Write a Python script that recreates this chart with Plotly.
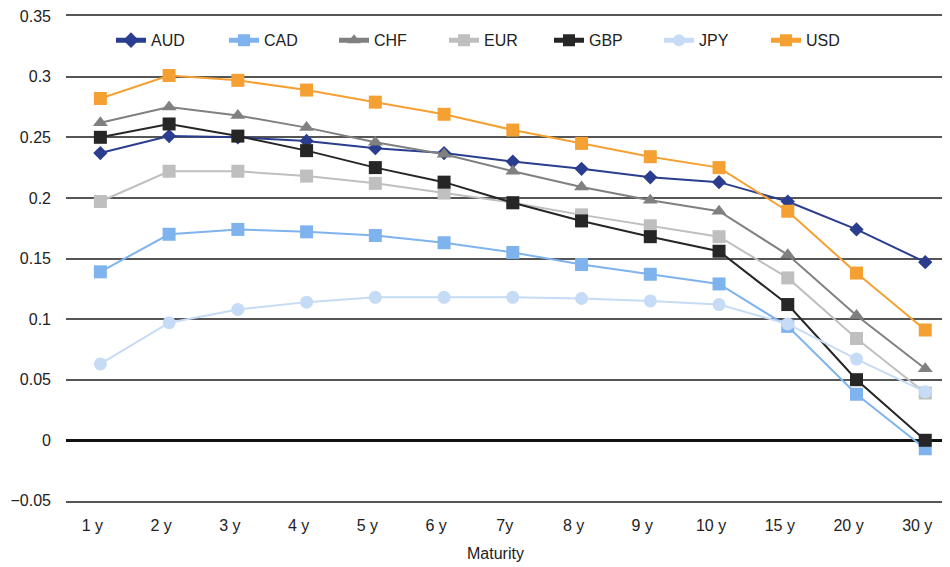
import plotly.graph_objects as go

maturities = ["1 y", "2 y", "3 y", "4 y", "5 y", "6 y", "7y", "8 y", "9 y", "10 y", "15 y", "20 y", "30 y"]

aud = [0.237, 0.251, 0.250, 0.247, 0.241, 0.237, 0.230, 0.224, 0.217, 0.213, 0.197, 0.174, 0.147]
cad = [0.139, 0.170, 0.174, 0.172, 0.169, 0.163, 0.155, 0.145, 0.137, 0.129, 0.094, 0.038, -0.007]
chf = [0.262, 0.275, 0.268, 0.258, 0.246, 0.236, 0.222, 0.209, 0.198, 0.189, 0.153, 0.103, 0.059]
eur = [0.197, 0.222, 0.222, 0.218, 0.212, 0.204, 0.196, 0.186, 0.177, 0.168, 0.134, 0.084, 0.039]
gbp = [0.250, 0.261, 0.251, 0.239, 0.225, 0.213, 0.196, 0.181, 0.168, 0.156, 0.112, 0.050, 0.000]
jpy = [0.063, 0.097, 0.108, 0.114, 0.118, 0.118, 0.118, 0.117, 0.115, 0.112, 0.096, 0.067, 0.040]
usd = [0.282, 0.301, 0.297, 0.289, 0.279, 0.269, 0.256, 0.245, 0.234, 0.225, 0.189, 0.138, 0.091]

y_ticks = [0.35, 0.3, 0.25, 0.2, 0.15, 0.1, 0.05, 0, -0.05]
y_tick_labels = ["0.35", "0.3", "0.25", "0.2", "0.15", "0.1", "0.05", "0", "\u22120.05"]

series = [
    ("AUD", aud, "#2b3d8f", "diamond", 11),
    ("CAD", cad, "#7fb3ee", "square", 13),
    ("CHF", chf, "#808080", "triangle-up", 13),
    ("EUR", eur, "#bfbfbf", "square", 13),
    ("GBP", gbp, "#262626", "square", 13),
    ("JPY", jpy, "#c6dbf5", "circle", 13),
    ("USD", usd, "#f5a033", "square", 13),
]

# page is rendered with an 8px body margin; figure is sized to compensate
PAGE_OFF = 8
W, H = 950 - PAGE_OFF, 567 - PAGE_OFF
L, T, B, R = 66 - PAGE_OFF, 14 - PAGE_OFF, 66, 0
PW = W - L - R

# left pixel (page coords) of each legend entry (one legend per series)
legend_px = [111, 224, 334, 444, 549, 659, 766]

fig = go.Figure()
layout_legends = {}
for i, (name, vals, color, symbol, size) in enumerate(series):
    key = "legend" if i == 0 else f"legend{i + 1}"
    fig.add_trace(go.Scatter(
        x=maturities, y=vals, name=name, mode="lines+markers",
        line=dict(color=color, width=2),
        marker=dict(symbol=symbol, size=size, color=color),
        legend=key,
    ))
    layout_legends[key] = dict(
        orientation="h", x=(legend_px[i] - 66) / PW, xanchor="left",
        y=0.95, yanchor="middle",
        font=dict(size=16, color="#222"), bgcolor="rgba(255,255,255,0)",
        borderwidth=0, itemsizing="constant",
    )

fig.update_layout(
    width=W, height=H,
    margin=dict(l=L, r=R, t=T, b=B),
    paper_bgcolor="white", plot_bgcolor="white",
    font=dict(family="Liberation Sans, Arial, sans-serif", size=16, color="#222"),
    showlegend=True,
    xaxis=dict(
        type="category", range=[-0.5, 12.36],
        showgrid=False, zeroline=False, ticks="",
        showline=True, mirror=True, linecolor="#555555", linewidth=1.5,
        ticklabelshift=-8, ticklabelstandoff=9,
    ),
    yaxis=dict(
        range=[-0.0501, 0.3501], tickvals=y_ticks, ticktext=y_tick_labels,
        showgrid=True, gridcolor="#555555", gridwidth=1.5,
        zeroline=True, zerolinecolor="#111111", zerolinewidth=2.5,
        showline=False, ticks="", ticklabelstandoff=14,
        ticklabeloverflow="allow",
    ),
    annotations=[dict(
        text="Maturity", xref="paper", yref="paper",
        x=(495 - 66) / PW, y=0, xanchor="center", yanchor="middle",
        yshift=-52, showarrow=False, font=dict(size=16, color="#222"),
    )],
    **layout_legends,
)

fig.write_html("out.html")
